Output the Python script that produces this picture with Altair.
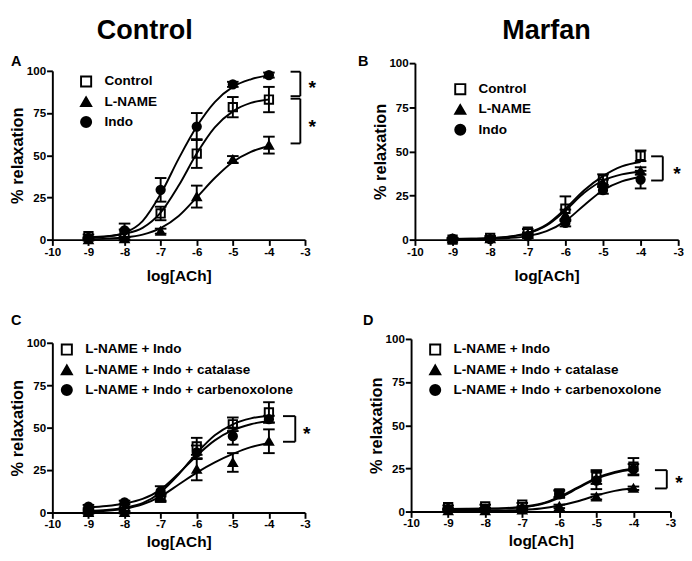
import altair as alt
import pandas as pd

FONT = "Liberation Sans"

dose = [-9, -8, -7, -6, -5, -4]
dose_fit = [-9, -8.5, -8, -7.5, -7, -6.5, -6, -5.5, -5, -4.5, -4]
x_ticks = [-10, -9, -8, -7, -6, -5, -4, -3]
y_ticks = [0, 25, 50, 75, 100]

shapes_top = ["square", "triangle-up", "circle"]
fills_top = ["transparent", "black", "black"]
strokes_top = ["black", "black", "black"]

# ---------------- Panel A : Control ----------------
a_series = ["Control", "L-NAME", "Indo"]
a_mean = [
    [2, 3, 15.5, 51, 78.5, 83],
    [0, 0.5, 5, 25.5, 47.5, 56],
    [1, 5.5, 29.5, 67, 92, 97.5],
]
a_sem = [
    [1, 3, 4, 8.5, 6, 7.5],
    [0.5, 1, 1.5, 6.5, 2, 5],
    [0.5, 4, 7, 8, 1.5, 1.5],
]
a_fit = [
    [1.5, 2.0, 3.5, 7.0, 16.0, 32.0, 51.0, 66.5, 76.0, 81.0, 83.0],
    [0.3, 0.6, 1.3, 3.0, 6.8, 14.0, 25.0, 36.5, 46.0, 52.0, 55.5],
    [1.0, 1.8, 4.0, 11.0, 27.0, 48.0, 67.0, 81.5, 90.5, 95.0, 97.5],
]
a_bracket_x = [-3.40, -3.13]
a_bracket_spans = [[99.5, 85], [83.5, 57]]
a_star_x = -2.8
a_star_y = [92, 69]

# ---------------- Panel B : Marfan ----------------
b_series = ["Control", "L-NAME", "Indo"]
b_mean = [
    [0, 1, 4.5, 17.5, 34, 47.5],
    [0.5, 0.5, 3, 14, 32, 39],
    [0.5, 0.3, 2, 9.5, 28, 34],
]
b_sem = [
    [0.5, 1, 1.5, 7, 3, 3],
    [0.5, 0.5, 1, 3, 2, 2],
    [0.5, 0.5, 1, 2, 2, 5],
]
b_fit = [
    [0.3, 0.5, 0.8, 1.7, 3.8, 8.5, 17.5, 28.0, 36.0, 41.5, 44.0],
    [0.3, 0.5, 0.8, 1.6, 3.5, 8.0, 16.5, 26.5, 33.5, 37.0, 38.5],
    [0.2, 0.3, 0.5, 0.9, 2.0, 4.8, 10.5, 19.5, 28.0, 33.0, 35.5],
]
b_bracket_x = [-3.72, -3.41]
b_bracket_spans = [[47.2, 33.5]]
b_star_x = -3.03
b_star_y = [39]

# ---------------- Panel C : Control ----------------
c_series = ["L-NAME + Indo", "L-NAME + Indo + catalase", "L-NAME + Indo + carbenoxolone"]
c_mean = [
    [0.5, 2, 9, 39, 52, 59],
    [0, 0, 8.5, 25.5, 29.5, 42],
    [3.5, 6, 12.5, 35.5, 45, 55],
]
c_sem = [
    [1, 1, 2, 5, 4, 6],
    [0.5, 0.5, 2, 6.5, 5.5, 7],
    [1, 1, 3, 4, 5, 2],
]
c_fit = [
    [1.0, 1.5, 2.8, 5.5, 12.0, 22.5, 35.0, 45.5, 52.0, 55.5, 57.0],
    [0.5, 1.0, 2.2, 4.8, 9.5, 16.5, 23.5, 29.5, 34.5, 38.5, 41.0],
    [3.0, 3.8, 5.3, 8.0, 13.5, 23.0, 33.5, 42.5, 48.5, 52.0, 54.0],
]
c_bracket_x = [-3.61, -3.27]
c_bracket_spans = [[56.8, 41.7]]
c_star_x = -2.95
c_star_y = [48.3]

# ---------------- Panel D : Marfan ----------------
d_series = ["L-NAME + Indo", "L-NAME + Indo + catalase", "L-NAME + Indo + carbenoxolone"]
d_mean = [
    [2.5, 3, 4, 10.5, 20, 26],
    [0.5, 0.5, 1, 3, 8.5, 13.5],
    [1.5, 1.5, 1.5, 10, 18, 24.5],
]
d_sem = [
    [1, 1, 1, 2, 4, 5],
    [0.5, 0.5, 0.5, 1, 1.5, 1],
    [0.5, 0.5, 0.5, 2, 5, 3],
]
d_fit = [
    [1.5, 1.6, 1.8, 2.0, 2.7, 4.5, 8.5, 14.0, 19.5, 23.0, 25.0],
    [0.3, 0.4, 0.5, 0.7, 1.0, 1.8, 3.5, 6.0, 9.3, 12.0, 13.5],
    [1.2, 1.3, 1.5, 1.8, 2.5, 4.2, 8.0, 13.5, 19.0, 22.5, 24.5],
]
d_bracket_x = [-3.42, -3.10]
d_bracket_spans = [[24, 13.4]]
d_star_x = -2.77
d_star_y = [18.8]


def panel(series, means, sems, fits, bx, spans, sx, sys_, width, height,
          xrange, yrange, yaxis_offset, letter, letter_xy, legend_xy, xtitle_pad, title=None):
    pts = pd.DataFrame(
        [
            {"x": d, "y": m, "lo": m - e, "hi": m + e, "series": s}
            for s, ms, es in zip(series, means, sems)
            for d, m, e in zip(dose, ms, es)
        ]
    )
    fit = pd.DataFrame(
        [
            {"x": d, "y": v, "series": s}
            for s, vs in zip(series, fits)
            for d, v in zip(dose_fit, vs)
        ]
    )
    segs = []
    for top, bot in spans:
        segs.append({"bx": bx[0], "bx2": bx[1], "by": top, "by2": top})
        segs.append({"bx": bx[0], "bx2": bx[1], "by": bot, "by2": bot})
        segs.append({"bx": bx[1], "bx2": bx[1], "by": bot, "by2": top})
    br = pd.DataFrame(segs)
    stars = pd.DataFrame({"sx": [sx] * len(sys_), "sy": sys_})
    lt = pd.DataFrame({"t": [letter]})

    xscale = alt.Scale(domain=[-10, -3], nice=False, zero=False, range=xrange)
    yscale = alt.Scale(domain=[0, 100], nice=False, zero=False, range=yrange)
    xaxis = alt.Axis(values=x_ticks, labelExpr="datum.value + ''", labelFlush=False,
                     titlePadding=xtitle_pad)
    yaxis = alt.Axis(values=y_ticks, labelFlush=False, offset=yaxis_offset)

    def X(f):
        return alt.X(f"{f}:Q", scale=xscale, axis=xaxis, title="log[ACh]")

    def Y(f):
        return alt.Y(f"{f}:Q", scale=yscale, axis=yaxis, title="% relaxation")

    legend = alt.Legend(
        title=None, orient="none", legendX=legend_xy[0], legendY=legend_xy[1],
        labelFont=FONT, labelFontSize=14, labelFontWeight="bold", labelColor="black",
        labelLimit=400, symbolSize=110, symbolStrokeWidth=2,
        rowPadding=2, labelOffset=12, padding=0,
    )

    curves = alt.Chart(fit).mark_line(
        color="black", strokeWidth=2, interpolate="monotone"
    ).encode(x=X("x"), y=Y("y"), detail="series:N")

    bars = alt.Chart(pts).mark_rule(color="black", strokeWidth=2).encode(
        x=X("x"), y=Y("lo"), y2="hi:Q"
    )
    cap_lo = alt.Chart(pts).mark_tick(
        orient="horizontal", size=12, thickness=2, color="black", opacity=1
    ).encode(x=X("x"), y=Y("lo"))
    cap_hi = alt.Chart(pts).mark_tick(
        orient="horizontal", size=12, thickness=2, color="black", opacity=1
    ).encode(x=X("x"), y=Y("hi"))

    points = alt.Chart(pts).mark_point(
        filled=True, size=75, strokeWidth=2, opacity=1
    ).encode(
        x=X("x"), y=Y("y"),
        shape=alt.Shape("series:N", scale=alt.Scale(domain=series, range=shapes_top), legend=legend),
        fill=alt.Fill("series:N", scale=alt.Scale(domain=series, range=fills_top), legend=legend),
        stroke=alt.Stroke("series:N", scale=alt.Scale(domain=series, range=strokes_top), legend=legend),
    )

    brackets = alt.Chart(br).mark_rule(color="black", strokeWidth=2).encode(
        x=X("bx"), x2="bx2:Q", y=Y("by"), y2="by2:Q"
    )
    star = alt.Chart(stars).mark_text(
        text="*", font=FONT, fontSize=20, fontWeight="bold", color="black",
        baseline="middle", align="center", dy=4
    ).encode(x=X("sx"), y=Y("sy"))

    letter_mark = alt.Chart(lt).mark_text(
        font=FONT, fontSize=15, fontWeight="bold", color="black",
        align="left", baseline="top"
    ).encode(text="t:N", x=alt.value(letter_xy[0]), y=alt.value(letter_xy[1]))

    props = dict(width=width, height=height)
    if title is not None:
        props["title"] = title
    return alt.layer(curves, bars, cap_lo, cap_hi, points, brackets, star, letter_mark).properties(**props)


title_a = alt.Title("Control", font=FONT, fontSize=28, fontWeight="bold", color="black",
                    anchor="start", frame="group", dx=46, offset=10)
title_b = alt.Title("Marfan", font=FONT, fontSize=28, fontWeight="bold", color="black",
                    anchor="middle", frame="group", offset=10)

pa = panel(a_series, a_mean, a_sem, a_fit, a_bracket_x, a_bracket_spans, a_star_x, a_star_y,
           262, 183, [0, 262], [183, 8], 0, "A", (-43, -9), (28, 12), 11, title_a)
pb = panel(b_series, b_mean, b_sem, b_fit, b_bracket_x, b_bracket_spans, b_star_x, b_star_y,
           273, 183, [0, 273], [183, 0], 0, "B", (-59, -9), (40, 20), 11, title_b)
pc = panel(c_series, c_mean, c_sem, c_fit, c_bracket_x, c_bracket_spans, c_star_x, c_star_y,
           262, 180, [0, 262], [180, 4], 0, "C", (-43, -26), (8, 4), 4)
pd_ = panel(d_series, d_mean, d_sem, d_fit, d_bracket_x, d_bracket_spans, d_star_x, d_star_y,
            265, 179, [-4, 265], [179, 0], 4, "D", (-54, -26), (14, 4), 4)

ind = dict(shape="independent", fill="independent", stroke="independent")

col1 = alt.vconcat(pa, pc, spacing=32).resolve_scale(**ind).resolve_legend(**ind)
col2 = alt.vconcat(pb, pd_, spacing=32).resolve_scale(**ind).resolve_legend(**ind)

chart = alt.hconcat(col1, col2, spacing=43).resolve_scale(**ind).resolve_legend(**ind).properties(
    padding=0
).configure_axis(
    labelFont=FONT, labelFontSize=12, labelFontWeight="bold", labelColor="black",
    titleFont=FONT, titleFontWeight="bold", titleColor="black",
    domainColor="black", domainWidth=2, tickColor="black", tickWidth=2, tickSize=6,
    grid=False, labelPadding=1,
).configure_axisY(titleFontSize=17, titlePadding=0).configure_axisX(
    titleFontSize=16
).configure_view(strokeWidth=0)

chart.save("out.html", embed_options={"renderer": "svg", "actions": False})
